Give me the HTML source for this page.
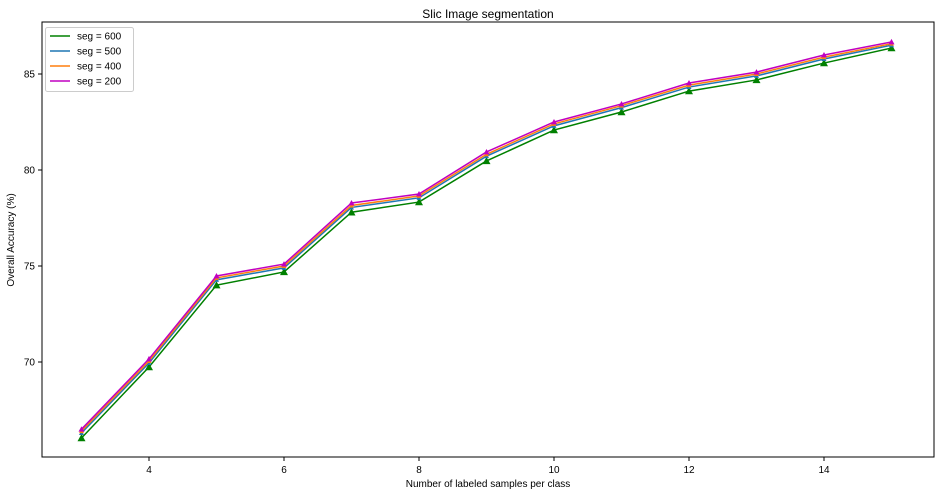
<!DOCTYPE html>
<html><head><meta charset="utf-8"><style>
body{margin:0;background:#fff;font-family:"Liberation Sans","DejaVu Sans",sans-serif;}
svg text{font-family:"Liberation Sans","DejaVu Sans",sans-serif;}
</style></head><body>
<svg id="c" width="940" height="496"></svg>
<script>
const xVals=[3,4,5,6,7,8,9,10,11,12,13,14,15];
const seg600=[66.04,69.74,74.0,74.69,77.8,78.33,80.47,82.08,83.02,84.11,84.69,85.57,86.35];
const seg500=[66.3,69.95,74.28,74.9,78.05,78.55,80.72,82.3,83.25,84.32,84.9,85.78,86.5];
const seg400=[66.4,70.05,74.38,75.0,78.15,78.65,80.82,82.4,83.35,84.42,85.0,85.88,86.58];
const seg200=[66.5,70.16,74.48,75.1,78.28,78.75,80.94,82.5,83.44,84.53,85.1,85.99,86.67];
const xTicks=[4,6,8,10,12,14];
const yTicks=[70,75,80,85];
const NS="http://www.w3.org/2000/svg";
const svg=document.getElementById('c');
const L=42,R=934,T=22,B=457;
function xs(v){return 81.5+(v-3)*67.5;}
function ys(v){return 362-(v-70)*19.2;}
function mk(tag,attrs,parent){const e=document.createElementNS(NS,tag);for(const k in attrs)e.setAttribute(k,attrs[k]);(parent||svg).appendChild(e);return e;}
let t=mk('text',{x:488,y:18,'text-anchor':'middle','font-size':12});t.textContent='Slic Image segmentation';


xTicks.forEach(v=>{mk('line',{x1:xs(v),x2:xs(v),y1:B,y2:B+4,stroke:'#000'});
 const tx=mk('text',{x:xs(v),y:B+16,'text-anchor':'middle','font-size':10});tx.textContent=v;
 
 });
yTicks.forEach(v=>{mk('line',{x1:L-4,x2:L,y1:ys(v),y2:ys(v),stroke:'#000'});
 const tx=mk('text',{x:L-7,y:ys(v)+3.5,'text-anchor':'end','font-size':10});tx.textContent=v;
 
 });
t=mk('text',{x:488,y:487,'text-anchor':'middle','font-size':10});t.textContent='Number of labeled samples per class';


t=mk('text',{x:14,y:240,'text-anchor':'middle','font-size':10,transform:'rotate(-90 14 240)'});t.textContent='Overall Accuracy (%)';


function tri(x,y,s,c,name){const p=mk('polygon',{points:`${x},${y-s} ${x-s},${y+s*0.8} ${x+s},${y+s*0.8}`,fill:c});
 
 }
const series=[[seg600,'#008000','seg-600',4],[seg500,'#1f77b4','seg-500',2.5],[seg400,'#ff7f0e','seg-400',2.5],[seg200,'#c000c0','seg-200',3]];
series.forEach(([d,c,n,s])=>{
 const pl=mk('polyline',{points:d.map((v,i)=>xs(xVals[i])+','+ys(v)).join(' '),fill:'none',stroke:c,'stroke-width':1.5});
 
 
 d.forEach((v,i)=>tri(xs(xVals[i]),ys(v),s,c,n+'-marker'));
});
mk('rect',{x:L,y:T,width:R-L,height:B-T,fill:'none',stroke:'#000','stroke-width':1});
const lg=mk('g',{});


mk('rect',{x:45.5,y:27.5,width:88,height:64,fill:'#fff',stroke:'#ccc',rx:2},lg);
const labels=['seg = 600','seg = 500','seg = 400','seg = 200'];
series.forEach(([d,c,n],i)=>{const y=36+i*15;
 mk('line',{x1:50,x2:70,y1:y,y2:y,stroke:c,'stroke-width':1.5},lg);
 const tx=mk('text',{x:77,y:y+3.5,'font-size':10},lg);tx.textContent=labels[i];
 
 });
</script>
</body></html>
